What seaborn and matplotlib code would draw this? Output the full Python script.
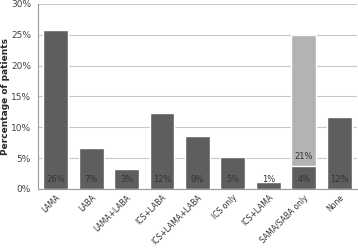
import matplotlib
matplotlib.use("Agg")
import matplotlib.pyplot as plt
import seaborn as sns
import numpy as np

# data
categories = ["LAMA", "LABA", "LAMA+LABA", "ICS+LABA", "ICS+LAMA+LABA",
              "ICS only", "ICS+LAMA", "SAMA/SABA only", "None"]
dark_values = [25.7, 6.7, 3.2, 12.4, 8.6, 5.2, 1.2, 3.7, 11.6]
light_values = [0, 0, 0, 0, 0, 0, 0, 21.3, 0]
dark_labels = ["26%", "7%", "3%", "12%", "9%", "5%", "1%", "4%", "12%"]
light_labels = ["", "", "", "", "", "", "", "21%", ""]
yticks = [0, 5, 10, 15, 20, 25, 30]

sns.set_style("white")
plt.rcParams['font.family'] = ['DejaVu Sans']

fig, ax = plt.subplots(figsize=(3.58, 2.48), dpi=100)
fig.subplots_adjust(left=0.106, right=0.997, top=0.984, bottom=0.238)

# light bar drawn as total, dark bars on top of it
totals = [d + l for d, l in zip(dark_values, light_values)]
sns.barplot(x=categories, y=totals, color="#b3b3b3", saturation=1,
            width=0.7, ax=ax, zorder=2)
sns.barplot(x=categories, y=dark_values, color="#5e5e5e", saturation=1,
            width=0.7, ax=ax, zorder=3)

for i, (lab, lab2) in enumerate(zip(dark_labels, light_labels)):
    ax.text(i, 1.5, lab, ha="center", va="center", fontsize=6, color="#333333", zorder=4)
    if lab2:
        ax.text(i, dark_values[i] + 1.5, lab2, ha="center", va="center",
                fontsize=6, color="#333333", zorder=4)

ax.set_ylim(0, 30)
ax.set_xlim(-0.5, len(categories) - 0.5)
ax.set_yticks(yticks)
ax.set_yticklabels([f"{t}%" for t in yticks], fontsize=6.5, color="#444444")
ax.yaxis.grid(True, color="#c8c8c8", linewidth=0.8, zorder=0)
ax.set_axisbelow(True)

ax.set_xticks(range(len(categories)))
ax.set_xticklabels(categories, rotation=45, ha="right", rotation_mode="anchor",
                   fontsize=5.5, color="#333333")
ax.tick_params(axis="x", length=0, pad=3)
ax.set_xticks(np.arange(-0.5, len(categories), 1), minor=True)
ax.tick_params(axis="x", which="minor", length=3, color="#999999")
ax.tick_params(axis="y", length=3, color="#999999", pad=2)

ax.set_ylabel("Percentage of patients", fontsize=6.5, fontweight="bold")
ax.yaxis.set_label_coords(-0.088, 0.5)
ax.set_xlabel("")

for s in ["top", "right"]:
    ax.spines[s].set_visible(False)
for s in ["left", "bottom"]:
    ax.spines[s].set_color("#999999")
    ax.spines[s].set_linewidth(0.8)

fig.savefig("out.png", dpi=100)
